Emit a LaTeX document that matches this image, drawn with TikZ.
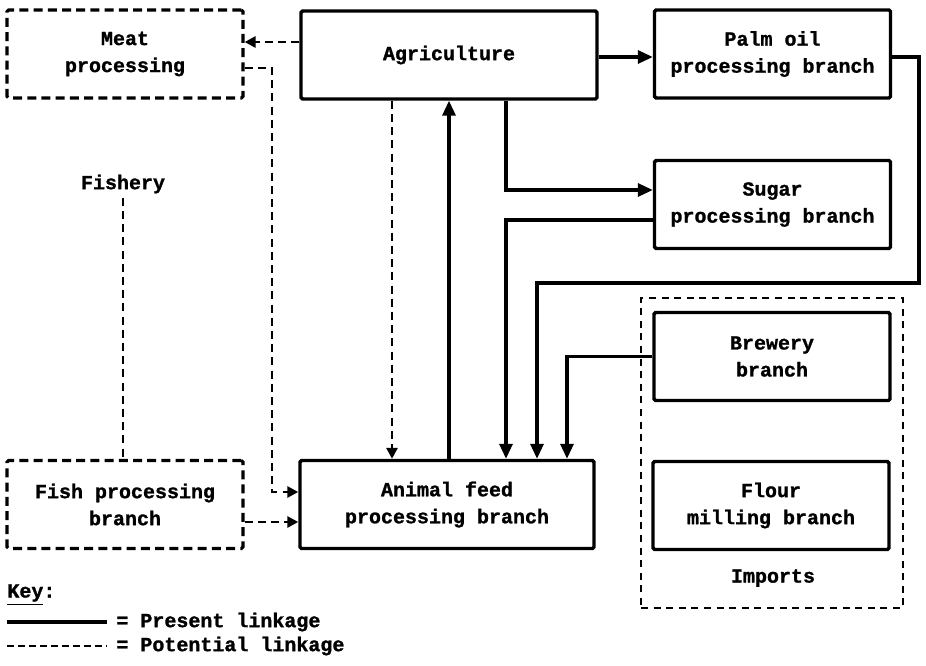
\documentclass[tikz,border=0pt]{standalone}
\usepackage{fontspec}
\newfontfamily\typewriter{Liberation Mono}[BoldFeatures={FakeBold=1.2}]
\usetikzlibrary{arrows.meta}

\begin{document}
\begin{tikzpicture}[x=0.5pt,y=-0.5pt,
  font=\typewriter\bfseries\fontsize{10}{13.5}\selectfont,
  box/.style={draw, line width=1.7pt, align=center, inner sep=0pt,
    minimum width=118pt, minimum height=44pt, rounded corners=0.8pt},
  dashbox/.style={box, line width=1.6pt, dash pattern=on 4.5pt off 2.6pt},
  present/.style={line width=1.6pt, line join=miter},
  potential/.style={line width=1.4pt, dash pattern=on 4pt off 2.6pt},
  solidhead/.style={-{Triangle[length=7.5pt,width=6.5pt]}},
  dashhead/.style={-{Triangle[length=5.5pt,width=5.5pt]}},
  lbl/.style={inner sep=0pt, anchor=west}]

\useasboundingbox (0,0) rectangle (926,665);

% processing branches and sources
\node[dashbox] (meat) at (125,54) {Meat\\processing};
\node[box, minimum width=148pt] (agri) at (449,55) {Agriculture};
\node[box] (palm) at (772.5,54) {Palm oil\\processing branch};
\node[box] (sugar) at (772.5,204.5) {Sugar\\processing branch};
\node[draw, line width=1.3pt, dash pattern=on 3.5pt off 2.8pt, inner sep=0pt,
      minimum width=131pt, minimum height=155pt] (imports) at (772,453) {};
\node[box] (brewery) at (772,356.5) {Brewery\\branch};
\node[box] (flour) at (771,505.5) {Flour\\milling branch};
\node[inner sep=0pt] (importslbl) at (773,578) {Imports};
\node[box, minimum width=147pt] (animal) at (447,504.5) {Animal feed\\processing branch};
\node[dashbox] (fish) at (125,504.5) {Fish processing\\branch};
\node[inner sep=2pt] (fishery) at (123,184) {Fishery};

% reference levels for the connectors
\coordinate (y42) at (0,42);
\coordinate (y57) at (0,57);
\coordinate (y68) at (0,68);
\coordinate (y190) at (0,190);
\coordinate (y220) at (0,220);
\coordinate (y283) at (0,283);
\coordinate (y492) at (0,492);
\coordinate (y522) at (0,522);
\coordinate (x272) at (272,0);
\coordinate (x392) at (392,0);
\coordinate (x449) at (449,0);
\coordinate (x506) at (506,0);
\coordinate (x537) at (537,0);
\coordinate (x567) at (567,0);
\coordinate (x919) at (919,0);

% present linkages
\draw[present, solidhead] (agri.east |- y57) -- (palm.west |- y57);
\draw[present, solidhead] (agri.south -| x506) |- (sugar.west |- y190);
\draw[present, solidhead] (animal.north -| x449) -- (agri.south -| x449);
\draw[present, solidhead] (palm.east |- y57) -| (x919 |- y283) -| (animal.north -| x537);
\draw[present, solidhead] (sugar.west |- y220) -| (animal.north -| x506);
\draw[present, solidhead] (brewery.west) -| (animal.north -| x567);

% potential linkages
\draw[potential, dashhead] (agri.west |- y42) -- (meat.east |- y42);
\draw[potential, dashhead] (meat.east |- y68) -| (x272 |- y492) -- (animal.west |- y492);
\draw[potential, dashhead] (agri.south -| x392) -- (animal.north -| x392);
\draw[potential, dashhead] (fish.east |- y522) -- (animal.west |- y522);
\draw[potential] (fishery.south) -- (fishery.south |- fish.north);

% key
\node[lbl] (key) at (7,595) {\underline{Key}:};
\coordinate (k1a) at (7,622);
\coordinate (k1b) at (107,622);
\coordinate (k2a) at (7,646);
\coordinate (k2b) at (107,646);
\draw[line width=1.6pt] (k1a) -- (k1b);
\draw[line width=1.2pt, dash pattern=on 3.5pt off 2pt] (k2a) -- (k2b);
\node[lbl] (k1t) at (116,622) {= Present linkage};
\node[lbl] (k2t) at (116,646) {= Potential linkage};

\end{tikzpicture}
\end{document}
